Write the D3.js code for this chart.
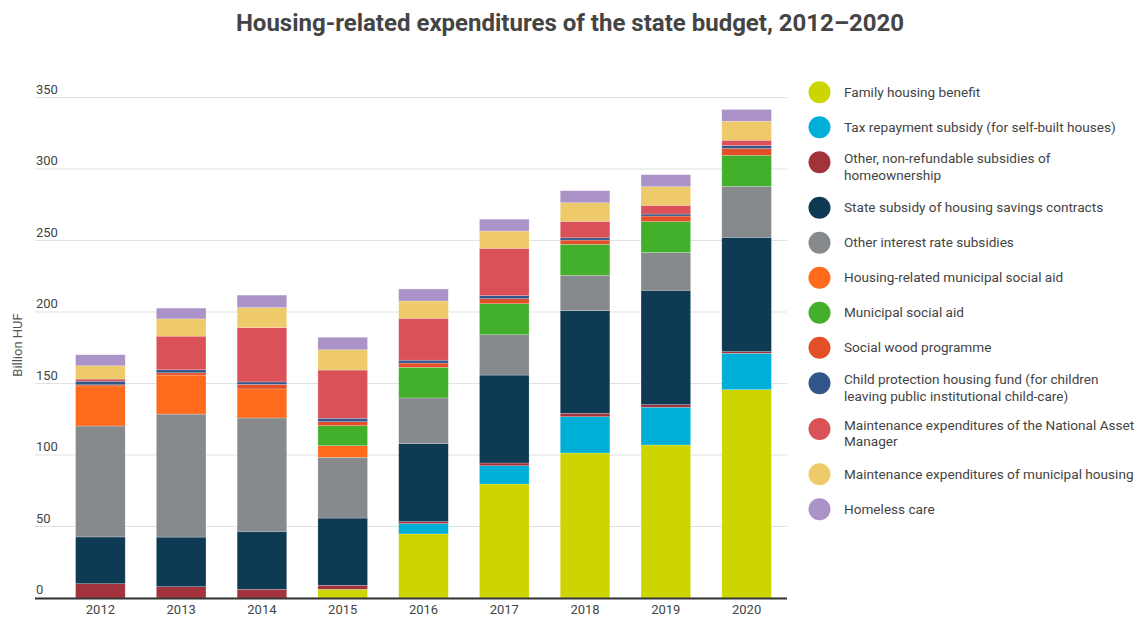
<!DOCTYPE html>
<html>
<head>
<meta charset="utf-8">
<script src="https://d3js.org/d3.v7.min.js"></script>
<style>
  body { margin: 0; background: #fff; font-family: Roboto, sans-serif; }
  text { font-family: Roboto, sans-serif; }
</style>
</head>
<body>
<div id="chart"></div>
<script>
// years on the x axis
var years = ["2012", "2013", "2014", "2015", "2016", "2017", "2018", "2019", "2020"];

// series names (legend order, bottom of stack first), "\n" marks a legend line break
var seriesNames = [
  "Family housing benefit",
  "Tax repayment subsidy (for self-built houses)",
  "Other, non-refundable subsidies of\nhomeownership",
  "State subsidy of housing savings contracts",
  "Other interest rate subsidies",
  "Housing-related municipal social aid",
  "Municipal social aid",
  "Social wood programme",
  "Child protection housing fund (for children\nleaving public institutional child-care)",
  "Maintenance expenditures of the National Asset\nManager",
  "Maintenance expenditures of municipal housing",
  "Homeless care"
];

var seriesColors = ["#ccd500", "#00afd8", "#a2333c", "#0f3a53", "#878a8d", "#ff6a1d",
                    "#43b02c", "#e24f28", "#33568a", "#da5257", "#efca6b", "#ab92c7"];

// billion HUF
var familyBenefit   = [0, 0, 0, 6.1, 44.8, 79.7, 101.4, 107, 145.7];
var taxRepayment    = [0, 0, 0, 0, 7.2, 12.8, 25.4, 26.4, 25.4];
var otherNonRefund  = [10, 7.9, 6.1, 2.8, 1.4, 1.9, 2.4, 1.8, 1.2];
var savingsSubsidy  = [32.7, 34.7, 40.5, 47, 54.5, 61.5, 71.7, 80, 79.9];
var otherInterest   = [77.6, 86, 79.3, 42.5, 32, 28.2, 24.8, 26.5, 35.7];
var housingMunAid   = [28, 27.3, 20.3, 8.1, 0, 0, 0, 0, 0];
var municipalAid    = [0, 0, 0, 14, 21.4, 21.7, 21.6, 21.5, 21.7];
var socialWood      = [0.8, 1.6, 3.2, 2.8, 3, 3.5, 3, 3.9, 4.7];
var childProtection = [2.5, 2.1, 1.7, 2.4, 2, 2.1, 1.6, 1.4, 2.1];
var nationalAsset   = [1.5, 23.5, 38, 33.7, 29.3, 33.1, 11.5, 6.1, 3.7];
var municipalHousing= [9.3, 12.1, 14, 14.2, 12.1, 12.1, 13, 13, 13.3];
var homelessCare    = [7.7, 7.5, 8.7, 8.7, 8.4, 8.3, 8.4, 8.4, 8.2];

var yTicks = [0, 50, 100, 150, 200, 250, 300, 350];

var seriesValues = [familyBenefit, taxRepayment, otherNonRefund, savingsSubsidy, otherInterest,
  housingMunAid, municipalAid, socialWood, childProtection, nationalAsset, municipalHousing, homelessCare];

var rows = years.map(function (y, i) {
  var r = { year: y };
  seriesNames.forEach(function (n, k) { r[n] = seriesValues[k][i]; });
  return r;
});

var width = 1139, height = 617;

var svg = d3.select("#chart").append("svg")
  .attr("width", width)
  .attr("height", height);

svg.append("text")
  .attr("x", 570)
  .attr("y", 31)
  .attr("text-anchor", "middle")
  .attr("font-size", 24)
  .attr("font-weight", 700)
  .attr("fill", "#444")
  .text("Housing-related expenditures of the state budget, 2012\u20132020");

var x = d3.scaleBand()
  .domain(years)
  .range([60, 787])
  .paddingInner(0.386)
  .paddingOuter(0.193);

var y = d3.scaleLinear()
  .domain([0, 350])
  .range([598, 97.5]);

// gridlines + tick labels
var grid = svg.append("g");
grid.selectAll("line")
  .data(yTicks)
  .enter().append("line")
  .attr("x1", 35).attr("x2", 787)
  .attr("y1", function (d) { return y(d); })
  .attr("y2", function (d) { return y(d); })
  .attr("stroke", "#e1e1e1")
  .attr("stroke-width", 1.2);

grid.selectAll("text")
  .data(yTicks)
  .enter().append("text")
  .attr("x", 36)
  .attr("y", function (d) { return y(d) - 4; })
  .attr("font-size", 13)
  .attr("fill", "#444")
  .text(function (d) { return d; });

svg.append("text")
  .attr("transform", "translate(22,345) rotate(-90)")
  .attr("text-anchor", "middle")
  .attr("font-size", 13)
  .attr("fill", "#555")
  .text("Billion HUF");

var stack = d3.stack().keys(seriesNames);
var layers = stack(rows);

var layerG = svg.append("g").selectAll("g")
  .data(layers)
  .enter().append("g")
  .attr("fill", function (d, i) { return seriesColors[i]; });

layerG.selectAll("rect")
  .data(function (d) { return d; })
  .enter().append("rect")
  .attr("x", function (d) { return x(d.data.year); })
  .attr("width", x.bandwidth())
  .attr("y", function (d) { return y(d[1]); })
  .attr("height", function (d) { return Math.max(0, y(d[0]) - y(d[1])); })
  .attr("stroke", "#fff")
  .attr("stroke-opacity", 0.35)
  .attr("stroke-width", 0.6);

// x axis
svg.append("line")
  .attr("x1", 35).attr("x2", 787)
  .attr("y1", 598.5).attr("y2", 598.5)
  .attr("stroke", "#333")
  .attr("stroke-width", 2);

svg.append("g").selectAll("text")
  .data(years)
  .enter().append("text")
  .attr("x", function (d) { return x(d) + x.bandwidth() / 2; })
  .attr("y", 609.5)
  .attr("dy", "0.35em")
  .attr("text-anchor", "middle")
  .attr("font-size", 13)
  .attr("fill", "#444")
  .text(function (d) { return d; });

// legend
var legendY = [92.3, 127.3, 162.3, 207.7, 242.7, 277.7, 312.7, 347.7, 383.3, 429, 474.3, 509.3];
var legend = svg.append("g").selectAll("g")
  .data(seriesNames)
  .enter().append("g")
  .attr("transform", function (d, i) { return "translate(819.5," + legendY[i] + ")"; });

legend.append("circle")
  .attr("r", 11)
  .attr("fill", function (d, i) { return seriesColors[i]; });

legend.append("text")
  .attr("x", 24.5)
  .attr("font-size", 13.6)
  .attr("fill", "#444")
  .each(function (d) {
    var lines = d.split("\n");
    var t = d3.select(this);
    lines.forEach(function (l, j) {
      t.append("tspan")
        .attr("x", 24.5)
        .attr("y", lines.length > 1 ? -3.6 + j * 16.3 : 0)
        .attr("dy", "0.35em")
        .text(l);
    });
  });
</script>
</body>
</html>
